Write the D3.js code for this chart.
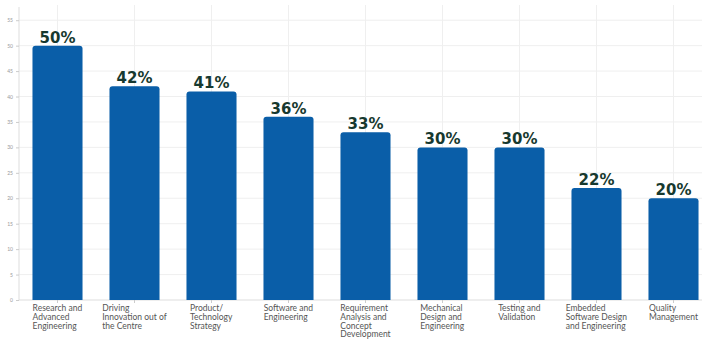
<!DOCTYPE html>
<html>
<head>
<meta charset="utf-8">
<script src="https://cdn.jsdelivr.net/npm/d3@7"></script>
<style>
  body { margin: 0; background: #fff; }
  svg { display: block; }
</style>
</head>
<body>
<div id="chart"></div>
<script>
const categories = [
  ["Research and", "Advanced", "Engineering"],
  ["Driving", "Innovation out of", "the Centre"],
  ["Product/", "Technology", "Strategy"],
  ["Software and", "Engineering"],
  ["Requirement", "Analysis and", "Concept", "Development"],
  ["Mechanical", "Design and", "Engineering"],
  ["Testing and", "Validation"],
  ["Embedded", "Software Design", "and Engineering"],
  ["Quality", "Management"]
];
const values = [50, 42, 41, 36, 33, 30, 30, 22, 20];
const yTicks = [0, 5, 10, 15, 20, 25, 30, 35, 40, 45, 50, 55];

const width = 702, height = 340;
const x0 = 19, x1 = 712, yTop = 8, yBottom = 300;

const svg = d3.select("#chart").append("svg")
    .attr("width", width)
    .attr("height", height);

const x = d3.scaleBand()
    .domain(d3.range(categories.length))
    .range([x0, x1])
    .paddingInner(0.35)
    .paddingOuter(0.175);

const y = d3.scaleLinear()
    .domain([0, 57.4])
    .range([yBottom, yTop]);

// grid
svg.append("g")
    .selectAll("line")
    .data(yTicks.filter(d => d > 0))
    .enter().append("line")
    .attr("x1", x0).attr("x2", width)
    .attr("y1", d => y(d)).attr("y2", d => y(d))
    .attr("stroke", "#efefef")
    .attr("stroke-width", 1);

svg.append("g")
    .selectAll("line")
    .data(d3.range(categories.length))
    .enter().append("line")
    .attr("x1", d => x(d) + x.bandwidth() / 2)
    .attr("x2", d => x(d) + x.bandwidth() / 2)
    .attr("y1", 5).attr("y2", yBottom)
    .attr("stroke", "#efefef")
    .attr("stroke-width", 1);

// y axis
const yAxis = svg.append("g")
    .attr("transform", `translate(${x0},0)`)
    .call(d3.axisLeft(y).tickValues(yTicks).tickSize(3).tickPadding(3));
yAxis.select(".domain").attr("stroke", "#ddd").attr("d", `M0,${yTop - 1}V${yBottom}`);
yAxis.selectAll(".tick line").attr("stroke", "#ccc");
yAxis.selectAll(".tick text")
    .attr("fill", "#999")
    .style("font-family", "Lato, sans-serif")
    .style("font-size", "5px");

// x axis baseline
const xAxis = svg.append("g")
    .attr("transform", `translate(0,${yBottom})`)
    .call(d3.axisBottom(x).tickSize(3).tickFormat(""));
xAxis.select(".domain").attr("stroke", "#ddd").attr("d", `M${x0},0H${width}`);
xAxis.selectAll(".tick line").attr("stroke", "#ccc");

// bars with rounded tops
const r = 3;
svg.append("g")
    .selectAll("path")
    .data(values)
    .enter().append("path")
    .attr("fill", "#0a5ea8")
    .attr("d", (d, i) => {
        const bx = x(i), bw = x.bandwidth(), top = y(d), b = y(0);
        return `M${bx},${b}V${top + r}Q${bx},${top} ${bx + r},${top}H${bx + bw - r}Q${bx + bw},${top} ${bx + bw},${top + r}V${b}Z`;
    });

// value labels
svg.append("g")
    .selectAll("text")
    .data(values)
    .enter().append("text")
    .attr("x", (d, i) => x(i) + x.bandwidth() / 2)
    .attr("y", d => y(d) - 3)
    .attr("text-anchor", "middle")
    .attr("fill", "#17392f")
    .style("font-family", "'DejaVu Sans', sans-serif")
    .style("font-weight", "bold")
    .style("font-size", "15px")
    .text(d => d + "%");

// category labels: left-aligned lines, block centred on band
const labels = svg.append("g")
    .selectAll("text")
    .data(categories)
    .enter().append("text")
    .attr("fill", "#555")
    .style("font-family", "Lato, sans-serif")
    .style("font-size", "8.5px");

labels.each(function(lines, i) {
    const t = d3.select(this);
    lines.forEach((line, j) => {
        t.append("tspan").attr("y", 311 + j * 8.8).attr("x", 0).text(line);
    });
    const w = this.getBBox().width;
    const cx = x(i) + x.bandwidth() / 2;
    t.selectAll("tspan").attr("x", cx - w / 2);
});
</script>
</body>
</html>
